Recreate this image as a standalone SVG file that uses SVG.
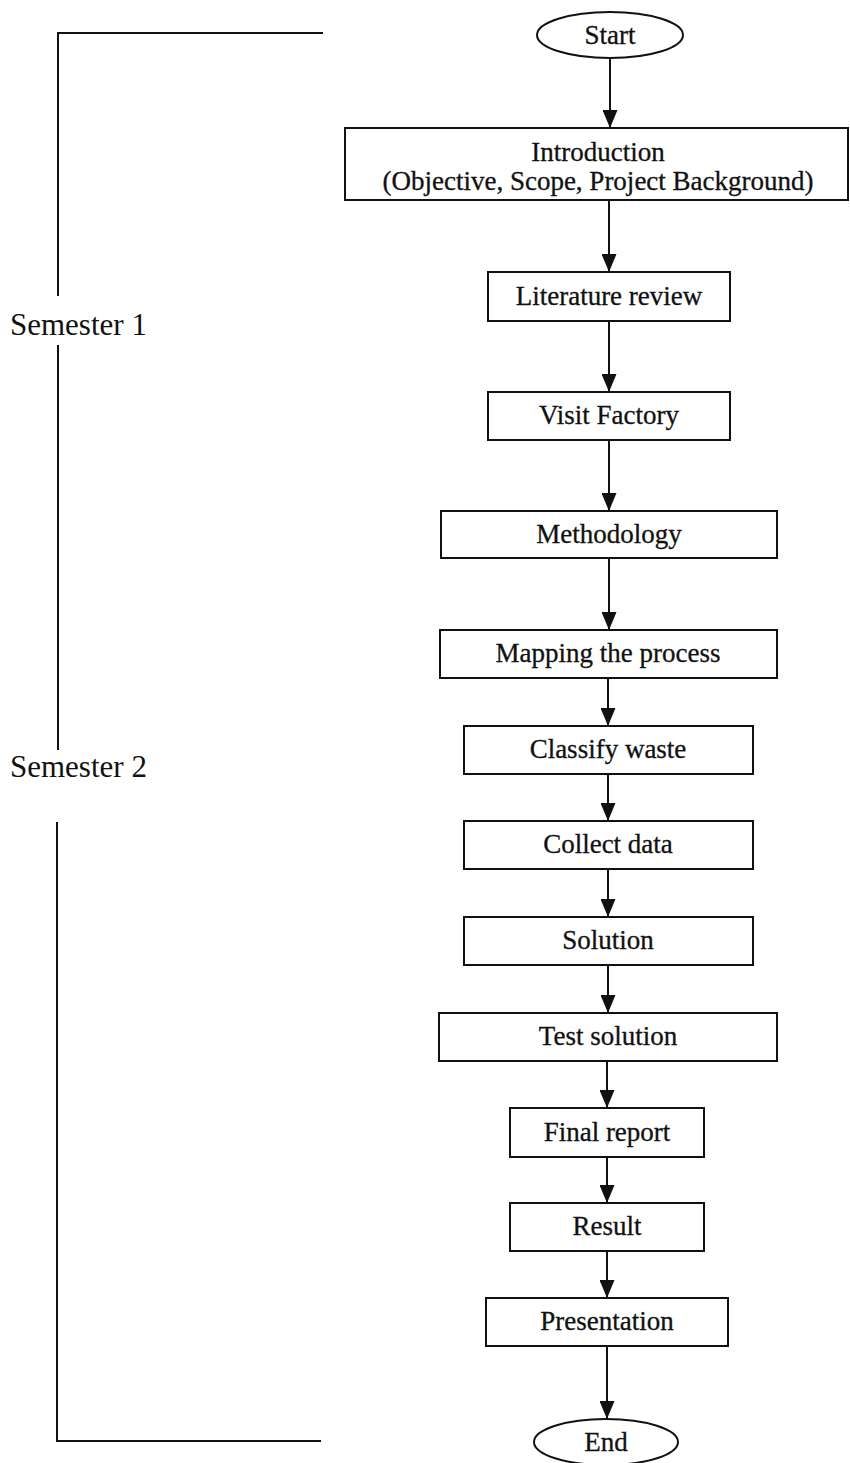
<svg xmlns="http://www.w3.org/2000/svg" width="850" height="1463" viewBox="0 0 850 1463">
  <style>
    .box { fill: #fff; stroke: #111; stroke-width: 2; }
    .lbl { font-family: "Liberation Serif", "Times New Roman", serif; font-size: 27px; fill: #111; stroke: #111; stroke-width: 0.3; text-anchor: middle; }
    .sem { font-family: "Liberation Serif", "Times New Roman", serif; font-size: 31px; fill: #111; }
    .edge { stroke: #111; stroke-width: 2; fill: none; marker-end: url(#arrow); }
    .brace { stroke: #111; stroke-width: 2; fill: none; }
  </style>
  <defs>
    <!-- solid triangular arrowhead, drawn along +x so orient="auto" points it down the line -->
    <marker id="arrow" markerUnits="userSpaceOnUse" markerWidth="19" markerHeight="15" refX="18" refY="7.5" orient="auto" viewBox="0 0 19 15">
      <path d="M0,0 L18,7.5 L0,15 Z" fill="#111"/>
    </marker>
  </defs>
  <rect width="850" height="1463" fill="#fff"/>

  <!-- semester brackets -->
  <g id="semester-brackets">
    <polyline class="brace" points="323,33 58,33 58,296"/>
    <line class="brace" x1="58" y1="345" x2="58" y2="750"/>
    <polyline class="brace" points="57,822 57,1441 321,1441"/>
    <text class="sem" x="10" y="335">Semester 1</text>
    <text class="sem" x="10" y="777">Semester 2</text>
  </g>

  <!-- connectors -->
  <g id="connectors">
    <line class="edge" x1="610" y1="58" x2="610" y2="128"/>
    <line class="edge" x1="609" y1="200" x2="609" y2="272"/>
    <line class="edge" x1="609" y1="321" x2="609" y2="392"/>
    <line class="edge" x1="609" y1="440" x2="609" y2="511"/>
    <line class="edge" x1="609" y1="558" x2="609" y2="630"/>
    <line class="edge" x1="608" y1="678" x2="608" y2="726"/>
    <line class="edge" x1="608" y1="774" x2="608" y2="821"/>
    <line class="edge" x1="608" y1="869" x2="608" y2="917"/>
    <line class="edge" x1="608" y1="965" x2="608" y2="1013"/>
    <line class="edge" x1="607" y1="1061" x2="607" y2="1108"/>
    <line class="edge" x1="607" y1="1157" x2="607" y2="1203"/>
    <line class="edge" x1="607" y1="1251" x2="607" y2="1298"/>
    <line class="edge" x1="607" y1="1346" x2="607" y2="1419"/>
  </g>

  <g id="start">
    <ellipse class="box" cx="610" cy="35" rx="73" ry="23"/>
    <text class="lbl" x="610" y="44">Start</text>
  </g>
  <g id="introduction">
    <rect class="box" x="345" y="128" width="503" height="72"/>
    <text class="lbl" x="598" y="161">Introduction</text>
    <text class="lbl" x="598" y="190">(Objective, Scope, Project Background)</text>
  </g>
  <g id="literature-review">
    <rect class="box" x="488" y="272" width="242" height="49"/>
    <text class="lbl" x="609" y="305">Literature review</text>
  </g>
  <g id="visit-factory">
    <rect class="box" x="488" y="392" width="242" height="48"/>
    <text class="lbl" x="609" y="424">Visit Factory</text>
  </g>
  <g id="methodology">
    <rect class="box" x="441" y="511" width="336" height="47"/>
    <text class="lbl" x="609" y="543">Methodology</text>
  </g>
  <g id="mapping">
    <rect class="box" x="440" y="630" width="337" height="48"/>
    <text class="lbl" x="608" y="662">Mapping the process</text>
  </g>
  <g id="classify-waste">
    <rect class="box" x="464" y="726" width="289" height="48"/>
    <text class="lbl" x="608" y="758">Classify waste</text>
  </g>
  <g id="collect-data">
    <rect class="box" x="464" y="821" width="289" height="48"/>
    <text class="lbl" x="608" y="853">Collect data</text>
  </g>
  <g id="solution">
    <rect class="box" x="464" y="917" width="289" height="48"/>
    <text class="lbl" x="608" y="949">Solution</text>
  </g>
  <g id="test-solution">
    <rect class="box" x="439" y="1013" width="338" height="48"/>
    <text class="lbl" x="608" y="1045">Test solution</text>
  </g>
  <g id="final-report">
    <rect class="box" x="510" y="1108" width="194" height="49"/>
    <text class="lbl" x="607" y="1141">Final report</text>
  </g>
  <g id="result">
    <rect class="box" x="510" y="1203" width="194" height="48"/>
    <text class="lbl" x="607" y="1235">Result</text>
  </g>
  <g id="presentation">
    <rect class="box" x="486" y="1298" width="242" height="48"/>
    <text class="lbl" x="607" y="1330">Presentation</text>
  </g>
  <g id="end">
    <ellipse class="box" cx="606" cy="1442" rx="72" ry="23"/>
    <text class="lbl" x="606" y="1451">End</text>
  </g>
</svg>
